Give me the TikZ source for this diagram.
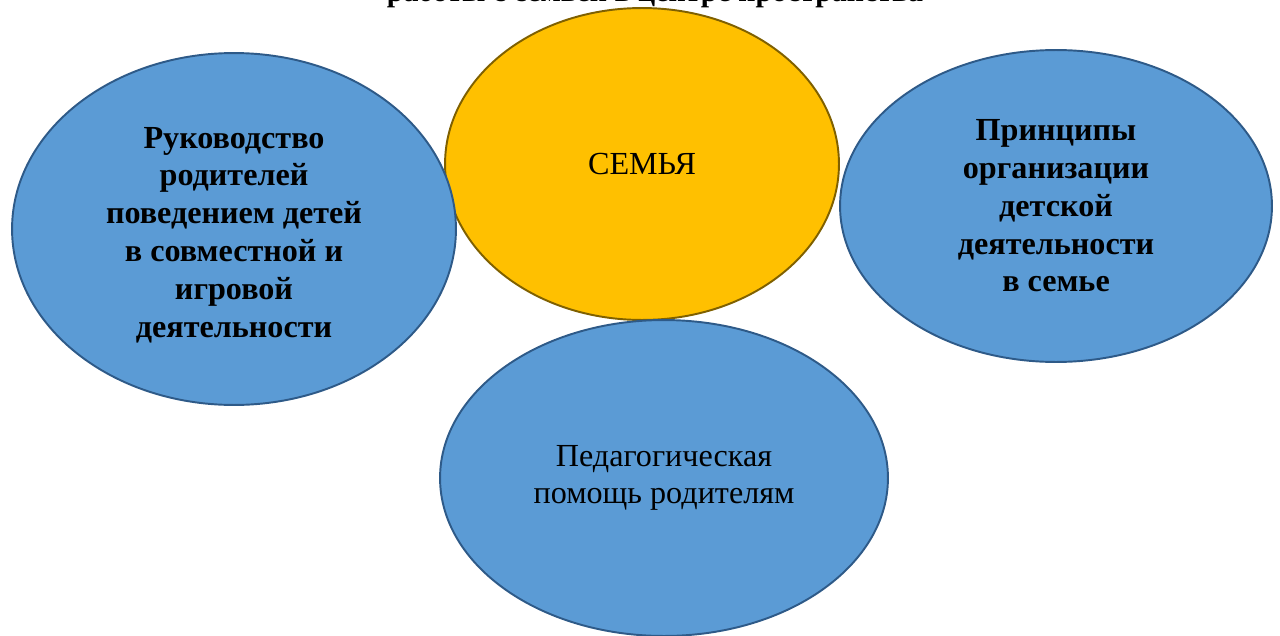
\documentclass[tikz,border=0pt]{standalone}
\usepackage{fontspec}
\setmainfont{Liberation Serif}
\usetikzlibrary{shapes.geometric}

\definecolor{blue1}{HTML}{5B9BD5}
\definecolor{blue2}{HTML}{2E5A88}
\definecolor{gold1}{HTML}{FFC000}
\definecolor{gold2}{HTML}{7F6000}

\tikzset{
  oval/.style = {ellipse, inner sep=0pt, line width=1.1pt, align=center,
                 font=\fontsize{18.3}{21.5}\selectfont},
  blueoval/.style = {oval, draw=blue2, fill=blue1},
  goldoval/.style = {oval, draw=gold2, fill=gold1}
}

\begin{document}
\begin{tikzpicture}[x=0.02cm, y=-0.02cm]
\useasboundingbox (0,0) rectangle (1280,635);

%title, cut off by the page
\node[anchor=base, font=\fontsize{17}{21.5}\selectfont\bfseries] (title) at (655,1.5)
  {работы с семьёй в центре пространства};

%centre
\node[goldoval, minimum width=7.88cm, minimum height=6.24cm] (family) at (642,164) {\raisebox{-0.1cm}{СЕМЬЯ}};

%around it
\node[blueoval, minimum width=8.88cm, minimum height=7.04cm, font=\fontsize{18.3}{21.5}\selectfont\bfseries] (guide) at (234,229)
  {\\[-0.1cm]Руководство\\родителей\\поведением детей\\в совместной и\\игровой\\деятельности};
\node[blueoval, minimum width=8.64cm, minimum height=6.24cm, font=\fontsize{18.3}{21.5}\selectfont\bfseries] (rules) at (1056,206)
  {Принципы\\организации\\детской\\деятельности\\в семье};
\node[blueoval, minimum width=8.96cm, minimum height=6.32cm] (help) at (664,478)
  {Педагогическая\\помощь родителям};

\end{tikzpicture}
\end{document}
